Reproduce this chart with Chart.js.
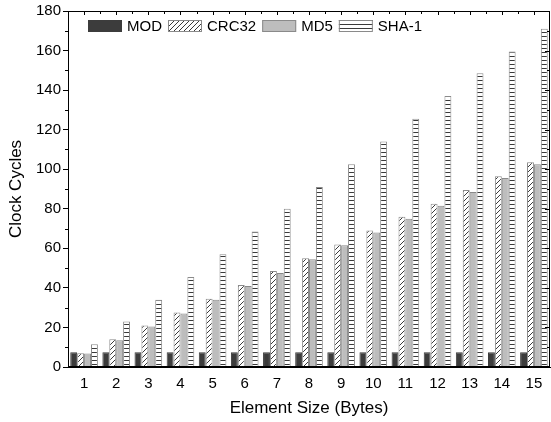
<!DOCTYPE html>
<html lang="en">
<head>
<meta charset="UTF-8">
<title>Clock Cycles</title>
<script src="https://cdn.jsdelivr.net/npm/chart.js"></script>
<style>
  html, body { margin: 0; padding: 0; background: #fff; }
</style>
</head>
<body>
<canvas id="chart" width="551" height="422"></canvas>
<script>
// data
const sizes = ['1','2','3','4','5','6','7','8','9','10','11','12','13','14','15'];
const mod   = [7.5,7.5,7.5,7.5,7.5,7.5,7.5,7.5,7.5,7.5,7.5,7.5,7.5,7.5,7.5];
const crc32 = [7,14,21,27.5,34.5,41.5,48.5,55,62,69,76,82.5,89.5,96.5,103.5];
const md5   = [6.8,13.5,20.5,27,34,41,47.5,54.5,61.5,68,75,81.5,88.5,95.5,102.5];
const sha1  = [11.5,23,34,45.5,57,68.5,80,91,102.5,114,125.5,137,148.5,159.5,171];

const FONT = 'Liberation Sans, Arial, sans-serif';

function makePattern(kind) {
    const c = document.createElement('canvas');
    const n = kind === 'diag' ? 5 : 4;
    c.width = n; c.height = n;
    const g = c.getContext('2d');
    g.fillStyle = '#fff';
    g.fillRect(0, 0, n, n);
    g.strokeStyle = '#3a3a3a';
    g.lineWidth = 1;
    g.beginPath();
    if (kind === 'diag') {
        g.moveTo(0, n); g.lineTo(n, 0);
        g.moveTo(-1, 1); g.lineTo(1, -1);
        g.moveTo(n - 1, n + 1); g.lineTo(n + 1, n - 1);
    } else {
        g.moveTo(0, 0.5); g.lineTo(n, 0.5);
    }
    g.stroke();
    return g.createPattern(c, 'repeat');
}

const ctx = document.getElementById('chart').getContext('2d');

// box around the plot, minor ticks, and the legend inside the plot
const frame = {
    id: 'frame',
    afterDraw(chart) {
        const a = chart.chartArea;
        const c = chart.ctx;
        c.save();
        c.strokeStyle = '#000';
        c.lineWidth = 1;
        c.strokeRect(a.left + 0.5, a.top + 0.5, a.right - a.left - 1, a.bottom - a.top - 1);
        c.beginPath();
        const y = chart.scales.y;
        for (let v = 10; v < 180; v += 20) {
            const py = Math.round(y.getPixelForValue(v)) + 0.5;
            c.moveTo(a.left - 3, py); c.lineTo(a.left, py);
            c.moveTo(a.right, py); c.lineTo(a.right - 3, py);
        }
        for (let v = 20; v < 180; v += 20) {
            const py = Math.round(y.getPixelForValue(v)) + 0.5;
            c.moveTo(a.right, py); c.lineTo(a.right - 5, py);
        }
        const step = (a.right - a.left) / sizes.length;
        for (let i = 1; i < sizes.length * 2; i++) {
            const px = Math.round(a.left + i * step / 2) + 0.5;
            const len = i % 2 ? 4 : 3;
            c.moveTo(px, a.top); c.lineTo(px, a.top + len);
        }
        c.stroke();

        // legend
        c.font = '15px ' + FONT;
        c.textBaseline = 'middle';
        let lx = a.left + 20;
        const ly = a.top + 9;
        chart.data.datasets.forEach(ds => {
            c.fillStyle = ds.backgroundColor;
            c.fillRect(lx, ly, 34, 12);
            c.strokeStyle = ds.borderColor;
            c.strokeRect(lx + 0.5, ly + 0.5, 33, 11);
            c.fillStyle = '#000';
            c.fillText(ds.label, lx + 39, ly + 6.5);
            lx += 39 + c.measureText(ds.label).width + 6;
        });
        c.restore();
    }
};

new Chart(ctx, {
    type: 'bar',
    data: {
        labels: sizes,
        datasets: [
            { label: 'MOD', data: mod, backgroundColor: '#3c3c3c', borderColor: '#3c3c3c', borderWidth: 1 },
            { label: 'CRC32', data: crc32, backgroundColor: makePattern('diag'), borderColor: '#8a8a8a', borderWidth: 1 },
            { label: 'MD5', data: md5, backgroundColor: '#bdbdbd', borderColor: '#8a8a8a', borderWidth: 1 },
            { label: 'SHA-1', data: sha1, backgroundColor: makePattern('horiz'), borderColor: '#8a8a8a', borderWidth: 1 }
        ]
    },
    options: {
        responsive: false,
        animation: false,
        layout: { padding: { top: 11, right: 1, left: 0, bottom: 0 } },
        datasets: { bar: { categoryPercentage: 0.86, barPercentage: 1.0 } },
        plugins: {
            tooltip: { enabled: false },
            legend: { display: false }
        },
        scales: {
            x: {
                afterFit(s) { s.height = 55; },
                grid: { display: false },
                border: { display: true, color: '#000' },
                ticks: { color: '#000', font: { family: FONT, size: 15 }, padding: 0 },
                title: {
                    display: true,
                    text: 'Element Size (Bytes)',
                    color: '#000',
                    font: { family: FONT, size: 17 },
                    padding: { top: 0, bottom: 3 }
                }
            },
            y: {
                afterFit(s) { s.width = 68; },
                min: 0,
                max: 180,
                ticks: { stepSize: 20, color: '#000', font: { family: FONT, size: 15 }, padding: 2 },
                grid: { drawOnChartArea: false, tickLength: 5, color: '#000' },
                border: { display: true, color: '#000' },
                title: {
                    display: true,
                    text: 'Clock Cycles',
                    color: '#000',
                    font: { family: FONT, size: 17 },
                    padding: { top: 6, bottom: 0 }
                }
            }
        }
    },
    plugins: [frame]
});
</script>
</body>
</html>
